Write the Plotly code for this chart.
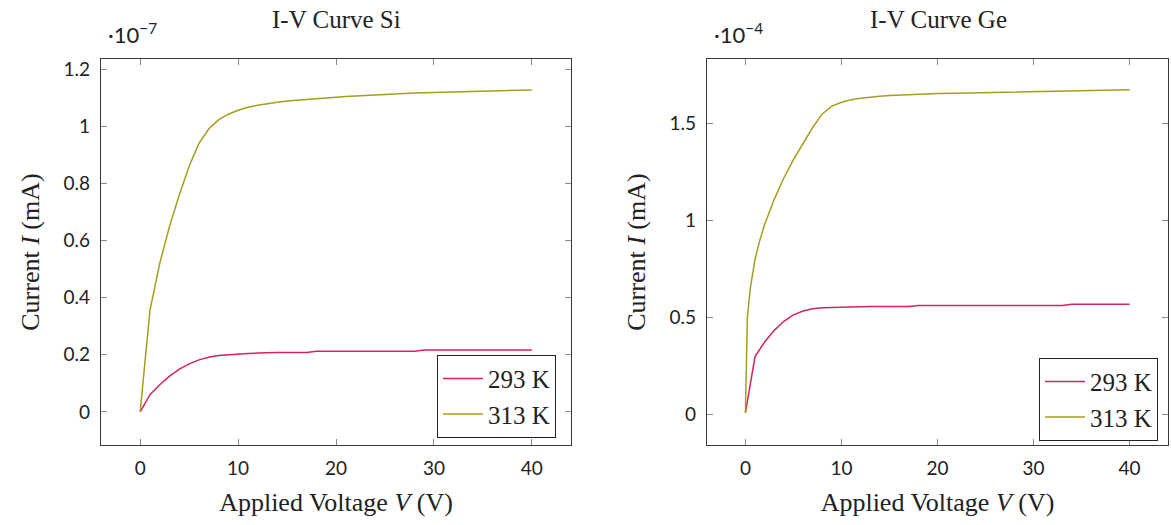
import plotly.graph_objects as go

# ---------------- data (currents in units of the axis multiplier) ----------------
si_v = list(range(0, 41))
si_293 = [0, 0.06, 0.095, 0.125, 0.15, 0.168, 0.182, 0.191, 0.197, 0.2,
          0.202, 0.204, 0.206, 0.208, 0.208, 0.208, 0.208, 0.208, 0.212, 0.212,
          0.212, 0.212, 0.212, 0.212, 0.212, 0.212, 0.212, 0.212, 0.212, 0.217,
          0.217, 0.217, 0.217, 0.217, 0.217, 0.217, 0.217, 0.217, 0.217, 0.217, 0.217]
si_313 = [0, 0.355, 0.52, 0.65, 0.76, 0.86, 0.94, 0.99, 1.022, 1.042,
          1.056, 1.066, 1.073, 1.079, 1.084, 1.088, 1.091, 1.094, 1.097, 1.1,
          1.102, 1.104, 1.106, 1.108, 1.11, 1.112, 1.113, 1.114, 1.116, 1.117,
          1.118, 1.119, 1.12, 1.121, 1.122, 1.123, 1.124, 1.125, 1.126, 1.126, 1.127]

ge_v_293 = list(range(0, 41))
ge_293 = [0.01, 0.3, 0.375, 0.435, 0.482, 0.515, 0.535, 0.546, 0.551, 0.553,
          0.555, 0.556, 0.558, 0.558, 0.558, 0.558, 0.558, 0.558, 0.563, 0.563,
          0.563, 0.563, 0.563, 0.563, 0.563, 0.563, 0.563, 0.563, 0.563, 0.563,
          0.563, 0.563, 0.563, 0.563, 0.57, 0.57, 0.57, 0.57, 0.57, 0.57, 0.57]
ge_v_313 = [0, 0.2, 0.5, 1, 1.5, 2, 3, 4, 5, 6, 7, 8, 9, 10, 11, 12, 13, 14, 15, 16, 17,
            18, 20, 22, 24, 27, 30, 35, 40]
ge_313 = [0.01, 0.5, 0.65, 0.8, 0.9, 0.98, 1.11, 1.22, 1.315, 1.40, 1.48, 1.55, 1.59,
          1.61, 1.623, 1.631, 1.637, 1.641, 1.645, 1.647, 1.649,
          1.653, 1.655, 1.657, 1.659, 1.663, 1.666, 1.672, 1.675]

titles = ["I-V Curve Si", "I-V Curve Ge"]
multipliers = ["·10<sup>−7</sup>", "·10<sup>−4</sup>"]
series_names = ["293 K", "313 K"]
x_ticks = [0, 10, 20, 30, 40]
si_yticks = [0, 0.2, 0.4, 0.6, 0.8, 1, 1.2]
ge_yticks = [0, 0.5, 1, 1.5]

RED = "#d4245f"
OLIVE = "#a69d1f"
SERIF = "Liberation Serif"
SANS = "Lato"

W, H = 1171, 525
def px(x): return x / W
def py(y): return 1 - y / H

fig = go.Figure()

fig.add_trace(go.Scatter(x=si_v, y=si_293, mode="lines", name=series_names[0],
                         line=dict(color=RED, width=1.5), xaxis="x", yaxis="y", legend="legend"))
fig.add_trace(go.Scatter(x=si_v, y=si_313, mode="lines", name=series_names[1],
                         line=dict(color=OLIVE, width=1.5), xaxis="x", yaxis="y", legend="legend"))
fig.add_trace(go.Scatter(x=ge_v_293, y=ge_293, mode="lines", name=series_names[0],
                         line=dict(color=RED, width=1.5), xaxis="x2", yaxis="y2", legend="legend2"))
fig.add_trace(go.Scatter(x=ge_v_313, y=ge_313, mode="lines", name=series_names[1],
                         line=dict(color=OLIVE, width=1.5), xaxis="x2", yaxis="y2", legend="legend2"))

axis_common = dict(showline=True, linecolor="#3a3a3a", linewidth=1.2, mirror="ticks",
                   ticks="inside", ticklen=6, tickwidth=1, tickcolor="#8a8a8a",
                   showgrid=False, zeroline=False, ticklabelstandoff=6,
                   tickfont=dict(family=SANS, size=19, color="#222"))

title_font = dict(family=SERIF, size=26, color="#222")

fig.update_layout(
    width=W, height=H,
    margin=dict(l=0, r=0, t=0, b=0),
    paper_bgcolor="white", plot_bgcolor="white",
    showlegend=True,
    xaxis=dict(domain=[px(101), px(571)], range=[-4, 44], tickvals=x_ticks,
               anchor="y", title=dict(text="Applied Voltage <i>V</i> (V)", font=title_font, standoff=14),
               **axis_common),
    yaxis=dict(domain=[py(445), py(57)], range=[-0.117, 1.236], tickvals=si_yticks,
               ticktext=[f"{v:g}" for v in si_yticks],
               anchor="x", title=dict(text="Current <i>I</i> (mA)", font=title_font, standoff=16),
               **axis_common),
    xaxis2=dict(domain=[px(707), px(1168)], range=[-4, 44], tickvals=x_ticks,
                anchor="y2", title=dict(text="Applied Voltage <i>V</i> (V)", font=title_font, standoff=14),
                **axis_common),
    yaxis2=dict(domain=[py(445), py(57)], range=[-0.157, 1.834], tickvals=ge_yticks,
                ticktext=[f"{v:g}" for v in ge_yticks],
                anchor="x2", title=dict(text="Current <i>I</i> (mA)", font=title_font, standoff=16),
                **axis_common),
    legend=dict(x=px(556), y=py(354), xanchor="right", yanchor="top",
                bgcolor="white", bordercolor="#222", borderwidth=1,
                font=dict(family=SERIF, size=25, color="#222"),
                tracegroupgap=0, itemwidth=40),
    legend2=dict(x=px(1158), y=py(357), xanchor="right", yanchor="top",
                 bgcolor="white", bordercolor="#222", borderwidth=1,
                 font=dict(family=SERIF, size=25, color="#222"),
                 tracegroupgap=0, itemwidth=40),
)

# titles and axis multipliers
for cx, label in zip([336, 938], titles):
    fig.add_annotation(x=px(cx), y=py(18), xref="paper", yref="paper", text=label,
                       showarrow=False, xanchor="center", yanchor="middle",
                       font=dict(family=SERIF, size=25, color="#222"))
for lx, label in zip([106, 712], multipliers):
    fig.add_annotation(x=px(lx), y=py(32), xref="paper", yref="paper", text=label,
                       showarrow=False, xanchor="left", yanchor="middle",
                       font=dict(family=SANS, size=22, color="#222"))

fig.write_html("out.html")
